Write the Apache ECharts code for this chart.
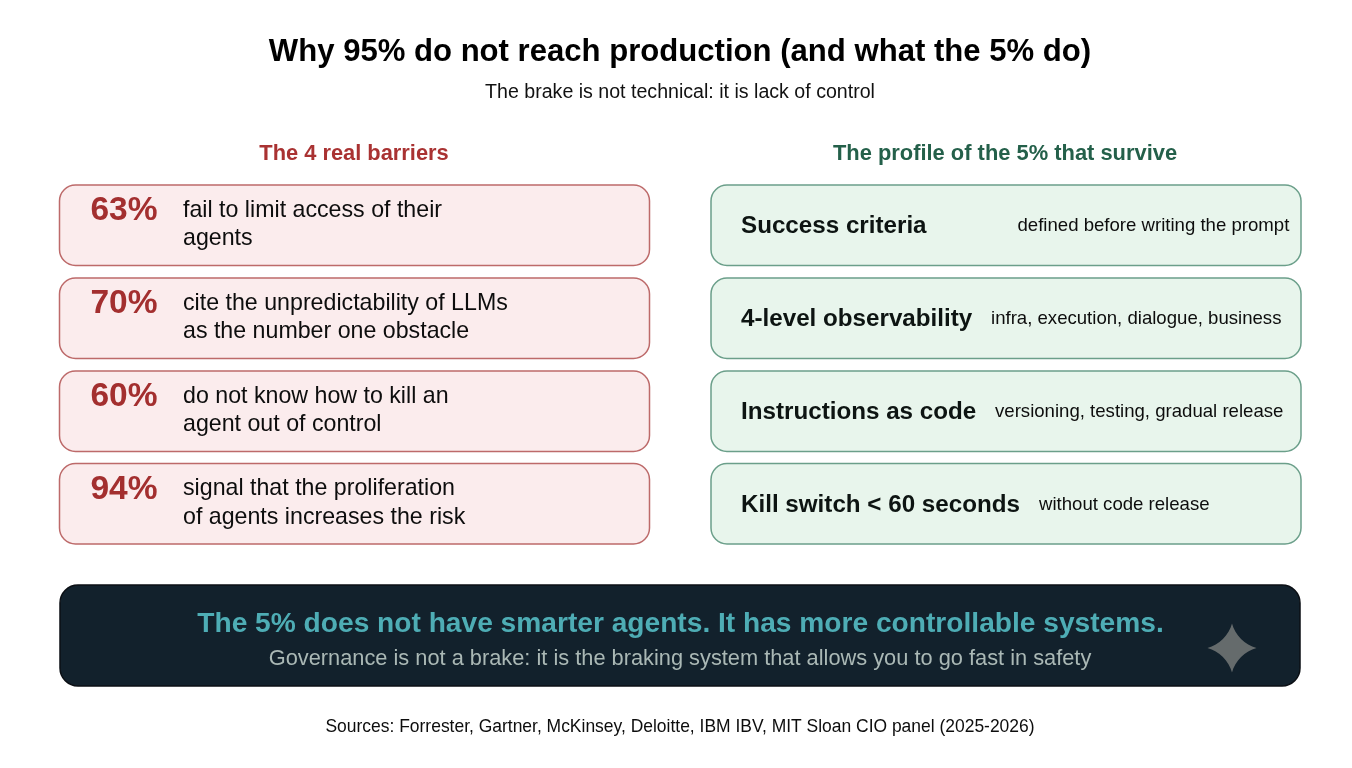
<!DOCTYPE html>
<html><head><meta charset="utf-8">
<style>html,body{margin:0;padding:0;background:#fff}#c{width:1352px;height:768px}</style>
<script src="https://cdn.jsdelivr.net/npm/echarts@6/dist/echarts.min.js"></script>
</head><body><div id="c"></div>
<script>
const titleText = 'Why 95% do not reach production (and what the 5% do)';
const subtitleText = 'The brake is not technical: it is lack of control';
const leftHeading = 'The 4 real barriers';
const rightHeading = 'The profile of the 5% that survive';
const barrierPercents = ['63%', '70%', '60%', '94%'];
const barrierLine1 = ['fail to limit access of their', 'cite the unpredictability of LLMs', 'do not know how to kill an', 'signal that the proliferation'];
const barrierLine2 = ['agents', 'as the number one obstacle', 'agent out of control', 'of agents increases the risk'];
const profileNames = ['Success criteria', '4-level observability', 'Instructions as code', 'Kill switch < 60 seconds'];
const profileDetails = ['defined before writing the prompt', 'infra, execution, dialogue, business', 'versioning, testing, gradual release', 'without code release'];
const bannerMain = 'The 5% does not have smarter agents. It has more controllable systems.';
const bannerSub = 'Governance is not a brake: it is the braking system that allows you to go fast in safety';
const sourcesText = 'Sources: Forrester, Gartner, McKinsey, Deloitte, IBM IBV, MIT Sloan CIO panel (2025-2026)';

const FF = '"Liberation Sans", Arial, sans-serif';
const cardTops = [185, 278, 371, 463.5];
const detailX = [1017.5, 991, 995, 1039];
const els = [];
function txt(x, y, text, size, color, weight, align) {
  els.push({type:'text', x, y, silent:true, z:10, style:{text, fontFamily:FF, fontSize:size, fill:color, fontWeight:weight||'normal', align:align||'left', verticalAlign:'middle'}});
}
function box(x, y, w, h, r, fill, stroke, lw) {
  els.push({type:'rect', x, y, silent:true, z:1, shape:{x:0,y:0,width:w,height:h,r}, style:{fill, stroke, lineWidth:lw}});
}
txt(680, 52, titleText, 31.1, '#000', 'bold', 'center');
txt(680, 93, subtitleText, 19.6, '#111', 'normal', 'center');
txt(354, 154, leftHeading, 21.85, '#a93232', 'bold', 'center');
txt(1005, 154, rightHeading, 21.9, '#24604a', 'bold', 'center');

barrierPercents.forEach((p, i) => {
  const t = cardTops[i];
  box(59.5, t, 590, 80.5, 16, '#fbeced', '#bd6a6a', 1.5);
  txt(124, t + 26, p, 33.5, '#a32f2f', 'bold', 'center');
  txt(183, t + 25.5, barrierLine1[i], 23.2, '#0d0d0d');
  txt(183, t + 54, barrierLine2[i], 23.2, '#0d0d0d');
});
profileNames.forEach((n, i) => {
  const t = cardTops[i];
  box(711, t, 590, 80.5, 16, '#e8f5ec', '#6b9f8a', 1.5);
  txt(741, t + 41.5, n, 24.2, '#0d1412', 'bold');
  txt(detailX[i], t + 41, profileDetails[i], 18.6, '#0d0d0d');
});
box(60, 585, 1240, 101, 18, '#12212c', '#0b0f14', 1.5);
txt(680.5, 624, bannerMain, 28.15, '#4eadb5', 'bold', 'center');
txt(680, 659, bannerSub, 21.8, '#aab8b5', 'normal', 'center');
// four-pointed sparkle in the banner
echarts.graphic.registerShape('sparkle', echarts.graphic.extendPath('M1232 623.5 C1235 635 1245 645 1256.5 648 C1245 651 1235 661 1232 672.5 C1229 661 1219 651 1207.5 648 C1219 645 1229 635 1232 623.5 Z', {}));
els.push({type:'sparkle', silent:true, z:5, style:{fill:'#656b6c'}});
txt(680, 727, sourcesText, 17.47, '#0d0d0d', 'normal', 'center');

const chart = echarts.init(document.getElementById('c'), null, {renderer:'canvas', width:1352, height:768});
chart.setOption({animation:false, backgroundColor:'#fff', graphic:{elements:els}});
</script></body></html>
